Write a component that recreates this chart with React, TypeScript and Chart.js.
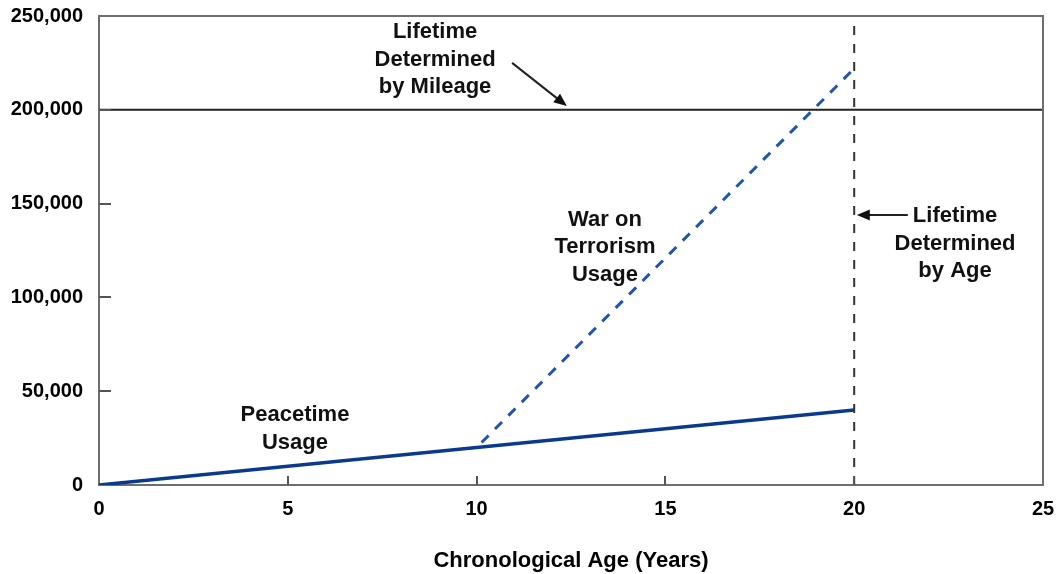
import React, { useEffect, useRef } from 'react';
import { Chart, registerables } from 'chart.js';

Chart.register(...registerables);

// ---- Data ----
const peaceYears = [0, 20];
const peaceMiles = [0, 40000];

const warYears = [10, 20];
const warMiles = [20000, 222000];

const mileageLimitYears = [0, 25];
const mileageLimitMiles = [200000, 200000];

const ageLimitYears = [20, 20];
const ageLimitMiles = [0, 250000];

const xTickValues = [0, 5, 10, 15, 20, 25];
const yTickValues = [0, 50000, 100000, 150000, 200000, 250000];

const xTitle = 'Chronological Age (Years)';

const noteMileage = ['Lifetime', 'Determined', 'by Mileage'];
const noteWar = ['War on', 'Terrorism', 'Usage'];
const notePeace = ['Peacetime', 'Usage'];
const noteAge = ['Lifetime', 'Determined', 'by Age'];

// annotation anchors in data units (year, miles)
const noteMileageAt = [8.9, 241500];
const noteWarAt = [13.4, 141300];
const notePeaceAt = [5.19, 37300];
const noteAgeAt = [22.67, 143400];

const arrowMileage = [10.94, 225000, 12.39, 202000];
const arrowAge = [21.42, 143900, 20.07, 143900];

const FONT = '"Liberation Sans", Arial, sans-serif';
const NAVY = '#0a3a8c';
const AXIS_GRAY = '#6e6e6e';

function pts(xs: number[], ys: number[]) {
  return xs.map((x, i) => ({ x, y: ys[i] }));
}

const overlayPlugin = {
  id: 'overlay',
  afterDatasetsDraw(chart: any) {
    const { ctx, chartArea, scales } = chart;
    const xs = scales.x;
    const ys = scales.y;
    ctx.save();
    // frame (top / right)
    ctx.strokeStyle = AXIS_GRAY;
    ctx.lineWidth = 2;
    ctx.beginPath();
    ctx.moveTo(chartArea.left, chartArea.top);
    ctx.lineTo(chartArea.right, chartArea.top);
    ctx.lineTo(chartArea.right, chartArea.bottom);
    ctx.stroke();
    // inner ticks
    ctx.strokeStyle = '#555';
    ctx.lineWidth = 2;
    xTickValues.forEach((v) => {
      if (v === 0 || v === 25) return;
      const px = Math.round(xs.getPixelForValue(v));
      ctx.beginPath();
      ctx.moveTo(px, chartArea.bottom);
      ctx.lineTo(px, chartArea.bottom - 9);
      ctx.stroke();
    });
    yTickValues.forEach((v) => {
      if (v === 0 || v === 250000) return;
      const py = Math.round(ys.getPixelForValue(v));
      ctx.beginPath();
      ctx.moveTo(chartArea.left, py);
      ctx.lineTo(chartArea.left + 12, py);
      ctx.stroke();
    });

    // text annotations
    ctx.fillStyle = '#111';
    ctx.font = `bold 22px ${FONT}`;
    ctx.textAlign = 'center';
    ctx.textBaseline = 'middle';
    const drawNote = (lines: string[], at: number[]) => {
      const cx = xs.getPixelForValue(at[0]);
      const cy = ys.getPixelForValue(at[1]);
      lines.forEach((l, i) => ctx.fillText(l, cx, cy + i * 27.5));
    };
    drawNote(noteMileage, noteMileageAt);
    drawNote(noteWar, noteWarAt);
    drawNote(notePeace, notePeaceAt);
    drawNote(noteAge, noteAgeAt);

    // arrows
    const drawArrow = (a: number[]) => {
      const x1 = xs.getPixelForValue(a[0]);
      const y1 = ys.getPixelForValue(a[1]);
      const x2 = xs.getPixelForValue(a[2]);
      const y2 = ys.getPixelForValue(a[3]);
      const ang = Math.atan2(y2 - y1, x2 - x1);
      const hl = 13;
      const hw = 5.5;
      ctx.strokeStyle = '#222';
      ctx.fillStyle = '#111';
      ctx.lineWidth = 2;
      ctx.beginPath();
      ctx.moveTo(x1, y1);
      ctx.lineTo(x2 - Math.cos(ang) * hl * 0.8, y2 - Math.sin(ang) * hl * 0.8);
      ctx.stroke();
      ctx.beginPath();
      ctx.moveTo(x2, y2);
      ctx.lineTo(
        x2 - Math.cos(ang) * hl - Math.sin(ang) * hw,
        y2 - Math.sin(ang) * hl + Math.cos(ang) * hw
      );
      ctx.lineTo(
        x2 - Math.cos(ang) * hl + Math.sin(ang) * hw,
        y2 - Math.sin(ang) * hl - Math.cos(ang) * hw
      );
      ctx.closePath();
      ctx.fill();
    };
    drawArrow(arrowMileage);
    drawArrow(arrowAge);
    ctx.restore();
  },
};

export default function App() {
  const ref = useRef<HTMLCanvasElement | null>(null);

  useEffect(() => {
    document.body.style.margin = '0';
    document.body.style.background = '#fff';
    const canvas = ref.current;
    if (!canvas) return;
    const chart = new Chart(canvas, {
      type: 'line',
      data: {
        datasets: [
          {
            label: 'Peacetime Usage',
            data: pts(peaceYears, peaceMiles),
            borderColor: NAVY,
            borderWidth: 3.5,
            pointRadius: 0,
            tension: 0,
          },
          {
            label: 'War on Terrorism Usage',
            data: pts(warYears, warMiles),
            borderColor: '#1f56a8',
            borderWidth: 3,
            borderDash: [10, 9],
            borderDashOffset: 12,
            pointRadius: 0,
            tension: 0,
          },
          {
            label: 'Lifetime Determined by Mileage',
            data: pts(mileageLimitYears, mileageLimitMiles),
            borderColor: '#222',
            borderWidth: 2,
            pointRadius: 0,
            tension: 0,
          },
          {
            label: 'Lifetime Determined by Age',
            data: pts(ageLimitYears, ageLimitMiles),
            borderColor: '#333',
            borderWidth: 2,
            borderDash: [9, 9],
            pointRadius: 0,
            tension: 0,
          },
        ],
      },
      options: {
        animation: false,
        responsive: false,
        devicePixelRatio: 1,
        layout: { padding: { top: 16, right: 13, left: 0, bottom: 0 } },
        plugins: {
          legend: { display: false },
          tooltip: { enabled: false },
        },
        scales: {
          x: {
            type: 'linear',
            min: 0,
            max: 25,
            afterBuildTicks: (s: any) => {
              s.ticks = xTickValues.map((v) => ({ value: v }));
            },
            afterFit: (s: any) => {
              s.height = 89;
              s.paddingLeft = 0;
              s.paddingRight = 0;
            },
            grid: { drawOnChartArea: false, drawTicks: false },
            border: { color: AXIS_GRAY, width: 2 },
            ticks: {
              color: '#000',
              font: { family: FONT, size: 20, weight: 'bold' },
              padding: 12,
              maxRotation: 0,
            },
            title: {
              display: true,
              text: xTitle,
              color: '#000',
              font: { family: FONT, size: 22, weight: 'bold' },
              padding: { top: 4, bottom: 0 },
            },
          },
          y: {
            type: 'linear',
            min: 0,
            max: 250000,
            afterBuildTicks: (s: any) => {
              s.ticks = yTickValues.map((v) => ({ value: v }));
            },
            afterFit: (s: any) => {
              s.width = 99;
              s.paddingTop = 0;
              s.paddingBottom = 0;
            },
            grid: { drawOnChartArea: false, drawTicks: false },
            border: { color: AXIS_GRAY, width: 2 },
            ticks: {
              color: '#000',
              font: { family: FONT, size: 20, weight: 'bold' },
              padding: 16,
              callback: (v: any) => Number(v).toLocaleString('en-US'),
            },
          },
        },
      },
      plugins: [overlayPlugin],
    });
    return () => chart.destroy();
  }, []);

  return (
    <div style={{ width: 1056, height: 574, background: '#fff' }}>
      <canvas ref={ref} width={1056} height={574} />
    </div>
  );
}
